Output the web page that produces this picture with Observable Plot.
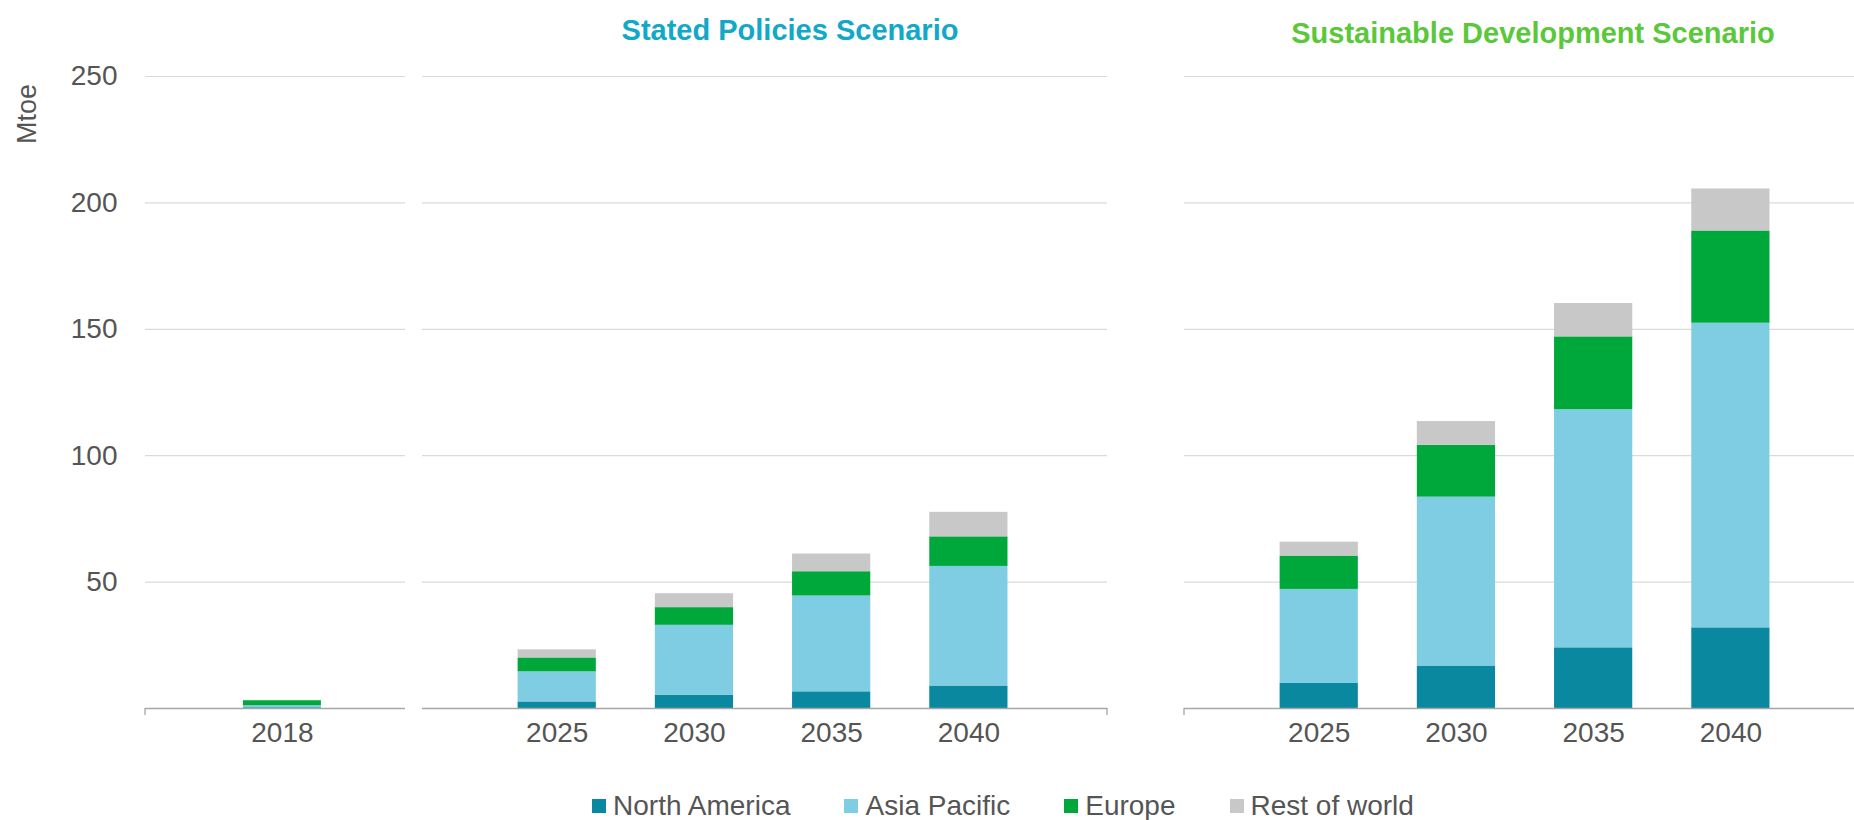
<!DOCTYPE html>
<html><head><meta charset="utf-8">
<script src="https://cdn.jsdelivr.net/npm/d3@7"></script>
<script src="https://cdn.jsdelivr.net/npm/@observablehq/plot@0.6"></script>
<style>
html,body{margin:0;padding:0;background:#fff;overflow:hidden;width:1854px;height:820px}
#wrap{position:relative;width:1854px;height:820px;font-family:"Liberation Sans",Arial,sans-serif;color:#555;overflow:hidden}
.panel{position:absolute;top:0}
.title{position:absolute;width:800px;text-align:center;font-weight:bold;font-size:29px;line-height:29px;white-space:nowrap}
.unit{position:absolute;left:27px;top:114px;font-size:27px;line-height:27px;white-space:nowrap;transform:translate(-50%,-50%) rotate(-90deg)}
.legend{position:absolute;left:0;width:2006px;top:792px;height:28px;display:flex;justify-content:center;align-items:center;font-size:28px;line-height:28px;color:#555}
.legend .item{display:flex;align-items:center;margin:0 27px}
.legend .sw{width:14px;height:14px;margin-right:7px;display:inline-block}
</style></head><body><div id="wrap"></div>
<script>
// ---- data ----
const regions = ["North America", "Asia Pacific", "Europe", "Rest of world"];
const regionColors = ["#0a889f", "#7fcde2", "#00a83c", "#c8c8c8"];
const baseYear = ["2018"];
const years = ["2025", "2030", "2035", "2040"];
// 2018 values per region (Mtoe)
const base2018 = [0.3, 0.8, 2.0, 0.1];
// Stated Policies Scenario, per region, per year
const statedNA  = [2.6, 5.3, 6.6, 8.9];
const statedAP  = [11.9, 27.6, 37.9, 47.3];
const statedEU  = [5.5, 7.0, 9.6, 11.7];
const statedRoW = [3.2, 5.5, 7.0, 9.7];
// Sustainable Development Scenario, per region, per year
const sustNA  = [9.9, 16.8, 24.0, 31.9];
const sustAP  = [37.2, 66.8, 94.2, 120.5];
const sustEU  = [13.2, 20.5, 28.8, 36.5];
const sustRoW = [5.5, 9.4, 13.2, 16.6];
const yTicks = [50, 100, 150, 200, 250];
const scenarioTitles = ["Stated Policies Scenario", "Sustainable Development Scenario"];
const titleColors = ["#12a8c8", "#5ac83a"];
const unitLabel = "Mtoe";

// ---- build tables ----
function rows(yrs, series) {
  const out = [];
  regions.forEach((r, ri) => yrs.forEach((yr, yi) => out.push({year: yr, region: r, value: series[ri][yi]})));
  return out;
}
const data2018 = rows(baseYear, base2018.map(v => [v]));
const dataStated = rows(years, [statedNA, statedAP, statedEU, statedRoW]);
const dataSust = rows(years, [sustNA, sustAP, sustEU, sustRoW]);

function edgeTick(side) {
  return (index, scales, values, dims) => {
    const x = side === "left" ? dims.marginLeft : dims.width - dims.marginRight;
    const y0 = dims.height - dims.marginBottom;
    return d3.create("svg:line")
      .attr("x1", x).attr("x2", x).attr("y1", y0).attr("y2", y0 + 7)
      .attr("stroke", "#a6a6a6").attr("stroke-width", 1.3).node();
  };
}

function panel({domain, data, left, width, marginLeft, marginRight, paddingOuter, align, showY, edge}) {
  const chart = Plot.plot({
    width, height: 760,
    marginTop: 76, marginBottom: 52, marginLeft, marginRight,
    style: {fontFamily: "'Liberation Sans', Arial, sans-serif", fontSize: "28px", color: "#555", background: "transparent", overflow: "visible"},
    x: {domain, paddingInner: 0.43, paddingOuter, align, round: false, tickSize: 0, tickPadding: 14, label: null},
    y: showY
      ? {domain: [0, 250], ticks: yTicks, tickSize: 0, tickPadding: 28, label: null}
      : {domain: [0, 250], axis: null},
    color: {domain: regions, range: regionColors},
    marks: [
      Plot.ruleY(yTicks, {stroke: "#dadada", strokeWidth: 1.2}),
      Plot.barY(data, {x: "year", y: "value", fill: "region"}),
      Plot.ruleY([0], {stroke: "#a6a6a6", strokeWidth: 1.3}),
      edgeTick(edge)
    ]
  });
  chart.classList.add("panel");
  chart.style.left = left + "px";
  chart.style.position = "absolute";
  chart.style.top = "0px";
  return chart;
}

const wrap = document.getElementById("wrap");
wrap.appendChild(panel({domain: baseYear, data: data2018, left: 0, width: 405, marginLeft: 145, marginRight: 0, paddingOuter: 0.665, align: 0.538, showY: true, edge: "left"}));
wrap.appendChild(panel({domain: years, data: dataStated, left: 422, width: 689, marginLeft: 0, marginRight: 4, paddingOuter: 0.711, align: 0.49, showY: false, edge: "right"}));
wrap.appendChild(panel({domain: years, data: dataSust, left: 1180, width: 689, marginLeft: 4, marginRight: 0, paddingOuter: 0.711, align: 0.49, showY: false, edge: "left"}));

// titles
const titleCenters = [790, 1533];
const titleTops = [16, 19];
scenarioTitles.forEach((t, i) => {
  const d = document.createElement("div");
  d.className = "title";
  d.textContent = t;
  d.style.color = titleColors[i];
  d.style.left = (titleCenters[i] - 400) + "px";
  d.style.top = titleTops[i] + "px";
  wrap.appendChild(d);
});

// unit label
const u = document.createElement("div");
u.className = "unit";
u.textContent = unitLabel;
wrap.appendChild(u);

// legend
const lg = document.createElement("div");
lg.className = "legend";
regions.forEach((r, i) => {
  const it = document.createElement("div");
  it.className = "item";
  const sw = document.createElement("span");
  sw.className = "sw";
  sw.style.background = regionColors[i];
  const tx = document.createElement("span");
  tx.textContent = r;
  it.appendChild(sw); it.appendChild(tx);
  lg.appendChild(it);
});
wrap.appendChild(lg);
</script>
</body></html>
